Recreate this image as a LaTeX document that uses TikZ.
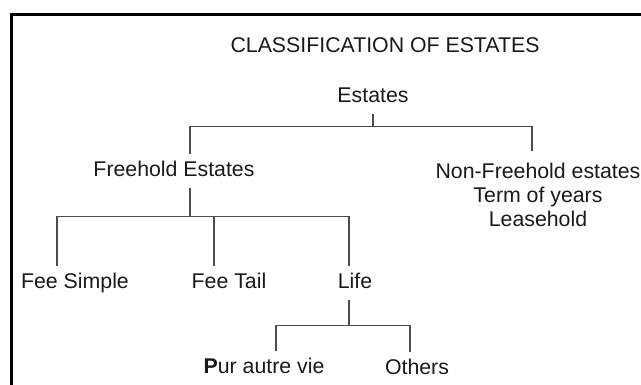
\documentclass[tikz,border=0pt]{standalone}
\usepackage{fontspec}
\setmainfont{Liberation Sans}
\usetikzlibrary{positioning}

\begin{document}
\begin{tikzpicture}[
    x=1pt, y=-1pt,
    lbl/.style={font=\fontsize{21.3}{24}\selectfont, inner xsep=2pt, inner ysep=7pt,
                text height=15pt, text depth=4pt, text=black!90},
    multi/.style={font=\fontsize{21.3}{24}\selectfont, inner xsep=2pt, inner ysep=7pt,
                align=center, text=black!90},
    link/.style={draw=black!70, line width=1.2pt},
    frame/.style={draw=black, line width=3pt},
]
    \useasboundingbox (0,0) rectangle (641,385);

    % Frame, open to the right and below
    \draw[frame] (11.5,390) -- (11.5,15) -- (646,15);

    % Title and root
    \node[lbl] (title) at (385,47) {CLASSIFICATION OF ESTATES};
    \node[lbl] (est) at (373,97) {Estates};

    % First level
    \node[lbl] (fh) at (174,171) {Freehold Estates};
    \node[multi, anchor=north] (nfh) at (538,156)
        {Non-Freehold estates\\Term of years\\Leasehold};

    % Freehold kinds
    \node[lbl] (fs) at (75,283) {Fee Simple};
    \node[lbl] (ft) at (229,283) {Fee Tail};
    \node[lbl] (life) at (355,283) {Life};

    % Life estates
    \node[lbl] (pav) at (264,368) {{\bfseries P}ur autre vie};
    \node[lbl] (oth) at (417,369) {Others};

    % Connectors
    \draw[link] (est.south) -- ++(0,12.5) -| ([xshift=16pt]fh.north);
    \draw[link, shorten >=5pt] (est.south) -- ++(0,12.5) -| ([xshift=-6pt]nfh.north);

    \foreach \kid/\dx in {fs/-18, ft/-15, life/-6}
        \draw[link] ([xshift=16pt]fh.south) -- ++(0,28.5) -| ([xshift=\dx pt]\kid.north);

    \foreach \kid/\dx in {pav/12, oth/-7}
        \draw[link] ([xshift=-6pt]life.south) -- ++(0,25.5) -| ([xshift=\dx pt]\kid.north);
\end{tikzpicture}
\end{document}
